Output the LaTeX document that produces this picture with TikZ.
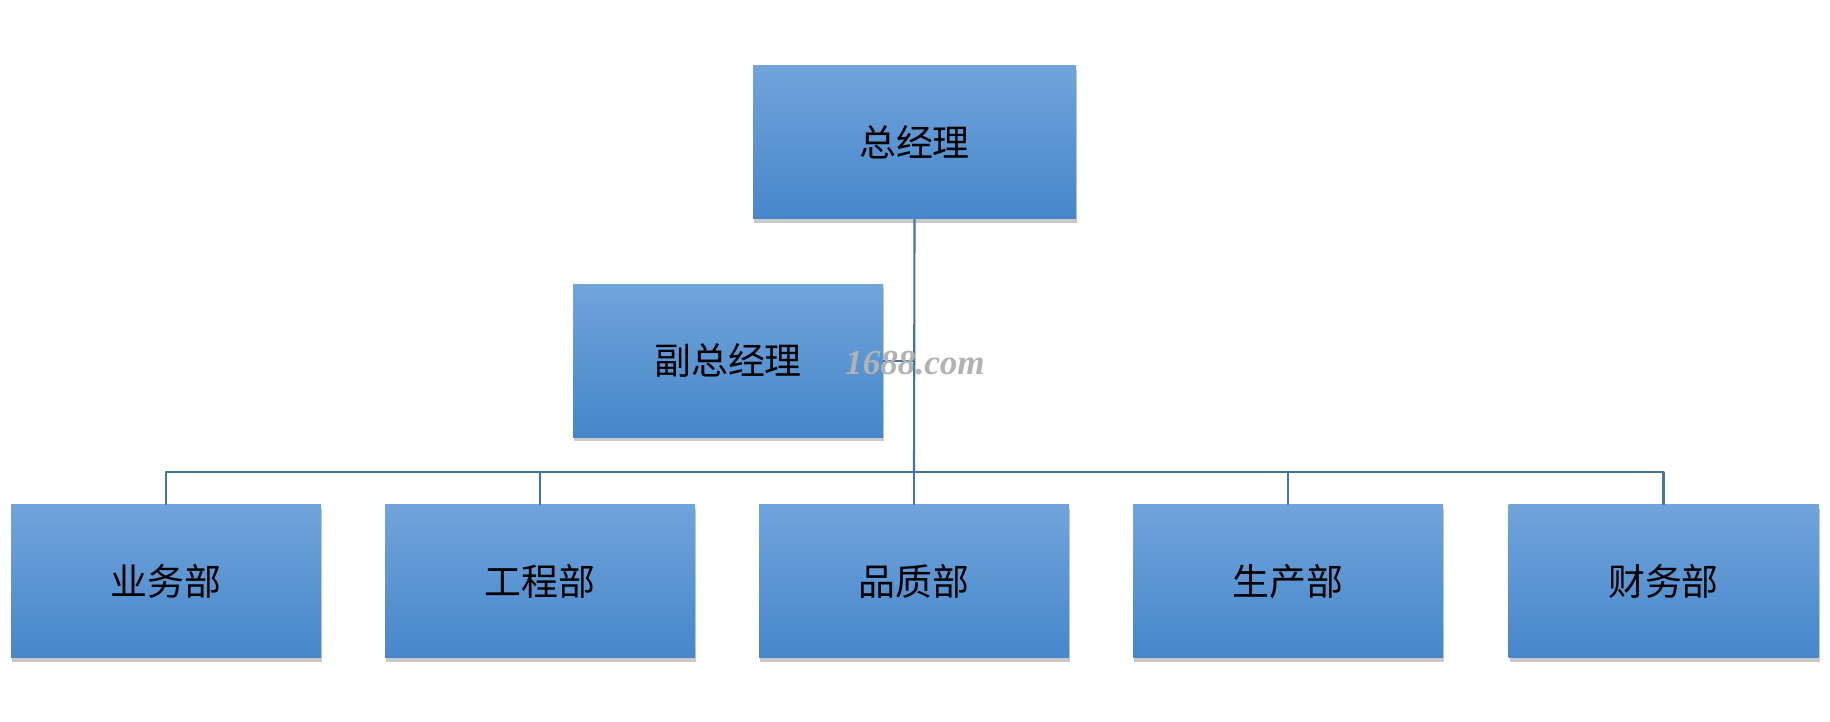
\documentclass[tikz,border=0pt]{standalone}
\usepackage{fontspec}
\setmainfont{Liberation Serif}
\newfontfamily\cjk{Noto Sans CJK SC}
\usepackage{xcolor}
\usetikzlibrary{shadows}

\definecolor{boxtop}{HTML}{70A4DB}
\definecolor{boxbot}{HTML}{4686CA}
\definecolor{linkcol}{HTML}{40759E}

\begin{document}
\begin{tikzpicture}[
  line cap=round,
  line join=round,
  every node/.style={font=\cjk\fontsize{10.5}{12}\selectfont},
  dept/.style={rectangle, minimum width=3.1cm, minimum height=1.53cm,
    top color=boxtop, bottom color=boxbot, draw=none,
    drop shadow={shadow xshift=0.01cm, shadow yshift=-0.04cm, opacity=0.3, fill=black!70}},
  link/.style={draw=linkcol, line width=0.6pt}
]
  \useasboundingbox (0,0) rectangle (18.3,7.22);

  % Top level
  \node[dept, minimum width=3.23cm] (gm) at (9.145,5.795) {总经理};

  % Assistant
  \node[dept] (vgm) at (7.28,3.61) {副总经理};

  % Departments
  \node[dept] (d1) at ( 1.66,1.405) {业务部};
  \node[dept] (d2) at ( 5.40,1.405) {工程部};
  \node[dept] (d3) at ( 9.14,1.405) {品质部};
  \node[dept] (d4) at (12.88,1.405) {生产部};
  \node[dept] (d5) at (16.635,1.405) {财务部};

  % Bus coordinates
  \coordinate (bus) at (9.14,2.50);
  \coordinate (mid) at (9.14,3.61);

  % Connectors
  \draw[link] (gm.south) -- (bus);
  \draw[link] (vgm.east) -- (mid);
  \foreach \d in {d1,d2,d3,d4,d5}
    \draw[link] (\d.north) |- (bus);

  % Watermark
  \node[font=\rmfamily\itshape\bfseries\fontsize{10}{12}\selectfont, text=gray!60] (wm) at (9.15,3.59) {1688.com};
\end{tikzpicture}
\end{document}
